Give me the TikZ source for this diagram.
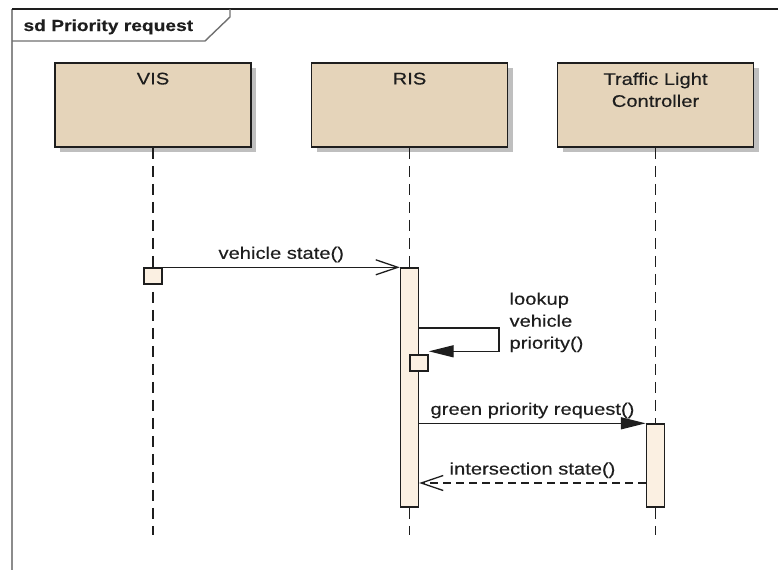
\documentclass[tikz,border=0pt]{standalone}
\usepackage{fontspec}
\setmainfont{Liberation Sans}[FakeStretch=1.2, FakeBold=0.4]
\usetikzlibrary{arrows.meta, calc, shadows}
\definecolor{headfill}{HTML}{E5D4BA}
\definecolor{actfill}{HTML}{FBF0E2}
\definecolor{inkc}{HTML}{1E1E1E}
\definecolor{framegray}{HTML}{8C8C8C}

\begin{document}
\begin{tikzpicture}[x=1pt, y=-1pt,
    every node/.style={font=\fontsize{16.8pt}{22pt}\selectfont, text=inkc},
    head/.style={draw=inkc, line width=1.7pt, fill=headfill,
      minimum width=196pt, minimum height=84pt,
      drop shadow={shadow xshift=5pt, shadow yshift=-5pt, fill=black!25, opacity=1}},
    act/.style={draw=inkc, line width=1.4pt, fill=actfill, minimum width=18pt, inner sep=0pt},
    lifeline/.style={draw=inkc, line width=1.6pt, dash pattern=on 11pt off 7pt},
    msg/.style={draw=inkc, line width=1.3pt},
    sync/.style={msg, -{Triangle[length=25pt,width=12pt]}},
    async/.style={msg, -{Straight Barb[length=22pt,width=15pt]}},
    reply/.style={msg, dash pattern=on 8pt off 5pt, -{Straight Barb[length=22pt,width=15pt]}}]
    \useasboundingbox (0,0) rectangle (778,570);

    % frame
    \draw[framegray, line width=1.7pt] (12,9) -- (12,570);
    \draw[inkc, line width=1.8pt] (12,9) -- (778,9);
    \draw[framegray!80!black, line width=1.4pt] (12,41) -- (205,41) -- (230,17) -- (230,9);
    \node[anchor=base west, font=\bfseries\fontsize{16pt}{20pt}\selectfont] (title) at (20,31) {sd Priority request};

    % lifelines
    \node[head, label={[anchor=north, yshift=-7pt, align=center]north:VIS}] (vis) at (153,105) {};
    \node[head, label={[anchor=north, yshift=-7pt, align=center]north:RIS}] (ris) at (409.5,105) {};
    \node[head, label={[anchor=north, yshift=-7pt, align=center]north:Traffic Light\\Controller}] (tlc) at (655.5,105) {};

    \coordinate (vis-end) at (153,535);
    \draw[lifeline] (vis) -- (vis-end);
    \draw[lifeline] (ris) -- (ris.south |- vis-end);
    \draw[lifeline] (tlc) -- (tlc.south |- vis-end);

    \node[act, minimum height=16pt] (vis-act) at (153,276) {};
    \node[act, minimum height=239pt] (ris-act) at (409.5,387.5) {};
    \node[act, minimum height=83pt] (tlc-act) at (655.5,465.5) {};
    \node[act, minimum height=16pt] (self-act) at (419,363) {};

    % messages
    \draw[async] (vis-act.north east) -- node[above=1pt] (m1) {vehicle state()} (ris-act.north west);

    \coordinate (loop) at (499,328);
    \draw[sync] (ris-act.east |- loop) -- (loop) |- ([yshift=3pt]self-act.north east);
    \node[anchor=north west, align=left] (m2) at (506,289) {lookup\\vehicle\\priority()};

    \draw[sync] (ris-act.east |- tlc-act.north) -- node[above=1pt] (m3) {green priority request()} (tlc-act.north west);

    \coordinate (ret) at (656,483);
    \draw[reply] (tlc-act.west |- ret) -- node[above=1pt] (m4) {intersection state()} (ris-act.east |- ret);
\end{tikzpicture}
\end{document}
